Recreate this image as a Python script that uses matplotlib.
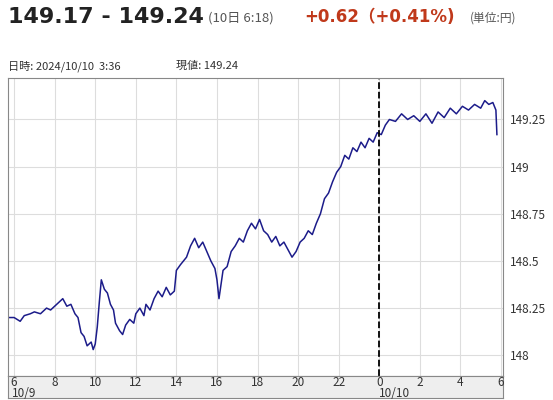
import numpy as np
import matplotlib.pyplot as plt

plt.rcParams['font.family'] = ['Noto Sans CJK JP', 'DejaVu Sans']

# hours since 10/9 00:00
hours = [5.75, 6.0, 6.3, 6.5, 6.8, 7.0, 7.3, 7.6, 7.8, 8.1, 8.4, 8.6, 8.8, 9.0, 9.15, 9.3,
         9.45, 9.6, 9.8, 9.9, 10.0, 10.1, 10.2, 10.3, 10.45, 10.6, 10.75, 10.9, 11.0, 11.2,
         11.35, 11.5, 11.7, 11.9, 12.0, 12.2, 12.4, 12.5, 12.7, 12.9, 13.1, 13.3, 13.5, 13.7,
         13.9, 14.0, 14.2, 14.5, 14.7, 14.9, 15.1, 15.3, 15.5, 15.7, 15.9, 16.0, 16.1, 16.3,
         16.5, 16.7, 16.9, 17.1, 17.3, 17.5, 17.7, 17.9, 18.1, 18.3, 18.5, 18.7, 18.9, 19.1,
         19.3, 19.5, 19.7, 19.9, 20.1, 20.3, 20.5, 20.7, 20.9, 21.1, 21.3, 21.5, 21.7, 21.9,
         22.1, 22.3, 22.5, 22.7, 22.9, 23.1, 23.3, 23.5, 23.7, 23.9, 24.1, 24.3, 24.5, 24.8,
         25.1, 25.4, 25.7, 26.0, 26.3, 26.6, 26.9, 27.2, 27.5, 27.8, 28.1, 28.4, 28.7, 29.0,
         29.2, 29.4, 29.6, 29.75, 29.8]
price = [148.20, 148.20, 148.18, 148.21, 148.22, 148.23, 148.22, 148.25, 148.24, 148.27, 148.30, 148.26, 148.27, 148.22, 148.20, 148.12,
         148.10, 148.05, 148.07, 148.03, 148.06, 148.15, 148.28, 148.40, 148.35, 148.33, 148.27, 148.24, 148.17, 148.13,
         148.11, 148.16, 148.19, 148.17, 148.22, 148.25, 148.21, 148.27, 148.24, 148.30, 148.34, 148.31, 148.36, 148.32,
         148.34, 148.45, 148.48, 148.52, 148.58, 148.62, 148.57, 148.60, 148.55, 148.50, 148.46, 148.40, 148.30, 148.45,
         148.47, 148.55, 148.58, 148.62, 148.60, 148.66, 148.70, 148.67, 148.72, 148.66, 148.64, 148.60, 148.63, 148.58,
         148.60, 148.56, 148.52, 148.55, 148.60, 148.62, 148.66, 148.64, 148.70, 148.75, 148.83, 148.86, 148.92, 148.97,
         149.00, 149.06, 149.04, 149.10, 149.08, 149.13, 149.10, 149.15, 149.13, 149.18, 149.17, 149.22, 149.25, 149.24,
         149.28, 149.25, 149.27, 149.24, 149.28, 149.23, 149.29, 149.26, 149.31, 149.28, 149.32, 149.30, 149.33, 149.31,
         149.35, 149.33, 149.34, 149.30, 149.17]

xticks = list(range(6, 31, 2))
xlabels = [str(h % 24) for h in xticks]
yticks = [148, 148.25, 148.5, 148.75, 149, 149.25]
ylabels = ['148', '148.25', '148.5', '148.75', '149', '149.25']

fig = plt.figure(figsize=(5.53, 4.0), dpi=100)
ax = fig.add_axes([8/553, 1 - 376/400, 495/553, 298/400])
ax.plot(hours, price, color='#1c1c8a', lw=1.1)
ax.axvline(24, color='black', ls='--', lw=1.3)
ax.set_xlim(5.7, 30.1)
ax.set_ylim(147.89, 149.47)
ax.set_xticks(xticks)
ax.set_yticks(yticks)
ax.grid(color='#dddddd', lw=0.8)
ax.set_axisbelow(True)
ax.tick_params(axis='x', length=0, labelbottom=False)
ax.yaxis.tick_right()
ax.set_yticklabels(ylabels, fontsize=8.5, color='#333333')
ax.tick_params(axis='y', length=0, pad=5)
for s in ax.spines.values():
    s.set_color('#888888')

# gray time band
band = fig.add_axes([8/553, 1 - 398/400, 495/553, 22/400])
band.set_facecolor('#eeeeee')
band.set_xlim(5.7, 30.1)
band.set_ylim(0, 1)
band.set_xticks([])
band.set_yticks([])
for s in band.spines.values():
    s.set_color('#888888')
for h, lab in zip(xticks, xlabels):
    band.text(h, 0.72, lab, ha='center', va='center', fontsize=8.5, color='#333333')
band.text(5.9, 0.2, '10/9', ha='left', va='center', fontsize=8.5, color='#333333')
band.text(24, 0.2, '10/10', ha='left', va='center', fontsize=8.5, color='#333333')

latin = ['DejaVu Sans', 'Noto Sans CJK JP']
fig.text(8/553, 1 - 17/400, '149.17 - 149.24', fontsize=16, fontweight='bold', color='#222222',
         va='center', family=latin)
fig.text(208/553, 1 - 18/400, '(10日 6:18)', fontsize=9.5, color='#555555', va='center')
fig.text(304/553, 1 - 17/400, '+0.62（+0.41%)', fontsize=12, fontweight='bold', color='#c0391b',
         va='center', family=latin)
fig.text(470/553, 1 - 18/400, '(単位:円)', fontsize=8.5, color='#555555', va='center')
fig.text(8/553, 1 - 66/400, '日時: 2024/10/10  3:36', fontsize=8, color='#333333', va='center')
fig.text(176/553, 1 - 66/400, '現値: 149.24', fontsize=8, color='#333333', va='center')

fig.savefig('out.png', dpi=100)
